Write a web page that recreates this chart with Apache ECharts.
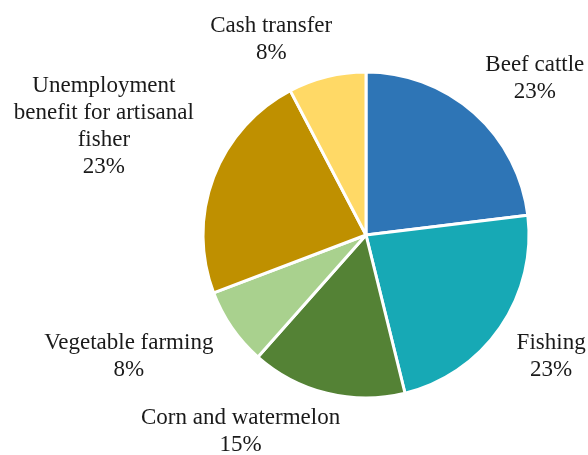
<!DOCTYPE html>
<html>
<head>
<meta charset="utf-8">
<script src="https://cdn.jsdelivr.net/npm/echarts@6/dist/echarts.min.js"></script>
<style>
  html, body { margin: 0; padding: 0; background: #ffffff; }
  #chart { width: 588px; height: 455px; }
</style>
</head>
<body>
<div id="chart"></div>
<script>
// Share of beneficiaries by programme type
const categories = [
  'Beef cattle',
  'Fishing',
  'Corn and watermelon',
  'Vegetable farming',
  'Unemployment\nbenefit for artisanal\nfisher',
  'Cash transfer'
];
const values = [3, 3, 2, 1, 3, 1];
const colors = ['#2E75B6', '#17A9B5', '#548235', '#A9D18E', '#BF9000', '#FFD966'];

// Label nudges (px) so each label sits beside its slice
const labelShift = [
  [-7, -20],
  [-5, 17],
  [23, 19],
  [3, 17],
  [4, -44],
  [15, -18]
];

const chart = echarts.init(document.getElementById('chart'), null, { renderer: 'canvas' });

const total = values.reduce((a, b) => a + b, 0);

chart.setOption({
  backgroundColor: '#ffffff',
  animation: false,
  series: [{
    type: 'pie',
    center: [366, 235],
    radius: [0, 163],
    startAngle: 90,
    clockwise: true,
    avoidLabelOverlap: false,
    itemStyle: { borderColor: '#ffffff', borderWidth: 3 },
    label: {
      show: true,
      position: 'outside',
      fontFamily: '"Liberation Serif", "DejaVu Serif", serif',
      fontSize: 23,
      lineHeight: 27,
      color: '#1a1a1a',
      formatter: p => p.name + '\n' + Math.round(p.value / total * 100) + '%'
    },
    labelLine: { show: false, length: 20, length2: 0 },
    // Centre each multi-line label on its computed spot, then nudge it
    labelLayout: p => ({
      x: p.labelRect.x + p.labelRect.width / 2 + labelShift[p.dataIndex][0],
      y: p.labelRect.y + p.labelRect.height / 2 + labelShift[p.dataIndex][1],
      align: 'center',
      verticalAlign: 'middle'
    }),
    data: categories.map((c, i) => ({ name: c, value: values[i], itemStyle: { color: colors[i] } }))
  }]
});
</script>
</body>
</html>
